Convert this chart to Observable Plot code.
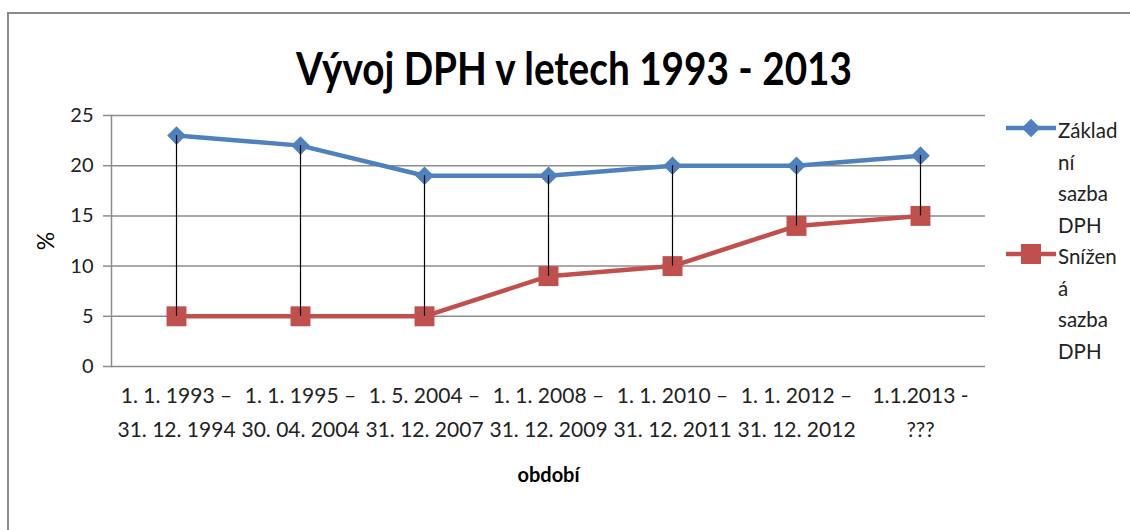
<!DOCTYPE html>
<html>
<head>
<meta charset="utf-8">
<script src="https://cdn.jsdelivr.net/npm/d3@7"></script>
<script src="https://cdn.jsdelivr.net/npm/@observablehq/plot@0.6"></script>
<style>
  body { margin: 0; background: #fff; font-family: Lato, "DejaVu Sans", sans-serif; }
  #wrap { position: relative; width: 1130px; height: 530px; overflow: hidden; background: #fff; }
  #border { position: absolute; left: 7px; top: 12px; width: 1300px; height: 700px; border: 2px solid #8a8a8a; box-sizing: border-box; }
  #chart { position: absolute; left: 0; top: 0; }
  #title { position: absolute; left: 0; top: 46px; width: 1148px; text-align: center; font-weight: bold; font-size: 45px; line-height: 44px; color: #000; white-space: nowrap; transform: scaleX(0.86); transform-origin: 574px 0; }
  #legend { position: absolute; left: 1005px; top: 115px; }
  .entry { position: relative; }
  .entry svg { position: absolute; left: 0; top: 0; }
  .entry .lbl { margin-left: 53px; font-size: 20.5px; color: #222; }
  .entry .lbl div { height: 31.5px; line-height: 31.5px; white-space: nowrap; }
  g[aria-label="x-axis label"] text { font-weight: bold; fill: #000; font-size: 20px; }
  g[aria-label="y-axis label"] text { font-size: 23px; fill: #000; }
</style>
</head>
<body>
<div id="wrap">
  <div id="border"></div>
  <div id="chart"></div>
  <div id="title"></div>
  <div id="legend"></div>
</div>
<script>
// ---- data ----
const titleText = "Vývoj DPH v letech 1993 - 2013";
const periods = [
  "1. 1. 1993 –\n31. 12. 1994",
  "1. 1. 1995 –\n30. 04. 2004",
  "1. 5. 2004 –\n31. 12. 2007",
  "1. 1. 2008 –\n31. 12. 2009",
  "1. 1. 2010 –\n31. 12. 2011",
  "1. 1. 2012 –\n31. 12. 2012",
  "1.1.2013 -\n???"
];
const zakladni = [23, 22, 19, 19, 20, 20, 21];
const snizena = [5, 5, 5, 9, 10, 14, 15];
const yTicks = [0, 5, 10, 15, 20, 25];
const seriesNames = ["Základní sazba DPH", "Snížená sazba DPH"];
const legendLines = [["Základ", "ní", "sazba", "DPH"], ["Snížen", "á", "sazba", "DPH"]];
const xLabel = "období";
const yLabel = "%";

const blue = "#4F81BD";
const red = "#C0504D";
const gray = "#8c8c8c";

const data = periods.map((p, i) => ({p, z: zakladni[i], s: snizena[i]}));

const chart = Plot.plot({
  width: 1130,
  height: 530,
  marginTop: 115,
  marginBottom: 164,
  marginLeft: 111,
  marginRight: 145,
  style: {fontFamily: "Lato, 'DejaVu Sans', sans-serif", fontSize: "20px", color: "#222", background: "transparent"},
  x: {type: "point", domain: periods, padding: 0.5},
  y: {domain: [0, 25]},
  marks: [
    Plot.gridY(yTicks, {stroke: gray, strokeOpacity: 1, strokeWidth: 1.5}),
    Plot.frame({anchor: "left", stroke: gray, strokeWidth: 1.5}),
    Plot.axisY(yTicks, {tickSize: 8, tickPadding: 10, stroke: gray, strokeWidth: 1.5, fill: "#222",
      label: yLabel, labelAnchor: "center", labelOffset: 74, labelArrow: "none"}),
    Plot.axisX({tickSize: 0, tickPadding: 12, lineHeight: 1.62, fontSize: 21, fill: "#222",
      label: xLabel, labelAnchor: "center", labelOffset: 115, labelArrow: "none"}),
    Plot.line(data, {x: "p", y: "z", stroke: blue, strokeWidth: 4.5}),
    Plot.line(data, {x: "p", y: "s", stroke: red, strokeWidth: 4.5}),
    Plot.dot(data, {x: "p", y: "z", symbol: "diamond2", r: 8.4, fill: blue, stroke: "none"}),
    Plot.dot(data, {x: "p", y: "s", symbol: "square2", r: 12.7, fill: red, stroke: "none"}),
    Plot.ruleX(data, {x: "p", y1: "s", y2: "z", stroke: "#000", strokeWidth: 1.2})
  ]
});
document.getElementById("chart").appendChild(chart);
document.getElementById("title").textContent = titleText;

// legend
const legend = document.getElementById("legend");
const specs = [{color: blue, symbol: d3.symbolDiamond2, size: Math.PI * 8.4 * 8.4},
               {color: red, symbol: d3.symbolSquare2, size: Math.PI * 12.7 * 12.7}];
seriesNames.forEach((name, i) => {
  const entry = document.createElement("div");
  entry.className = "entry";
  entry.title = name;
  const svg = d3.create("svg").attr("width", 52).attr("height", 30);
  svg.append("line").attr("x1", 1).attr("x2", 51).attr("y1", 13).attr("y2", 13)
    .attr("stroke", specs[i].color).attr("stroke-width", 4.5);
  svg.append("path").attr("transform", "translate(26,13)")
    .attr("d", d3.symbol(specs[i].symbol, specs[i].size)()).attr("fill", specs[i].color);
  entry.appendChild(svg.node());
  const lbl = document.createElement("div");
  lbl.className = "lbl";
  legendLines[i].forEach(t => { const d = document.createElement("div"); d.textContent = t; lbl.appendChild(d); });
  entry.appendChild(lbl);
  legend.appendChild(entry);
});
</script>
</body>
</html>
